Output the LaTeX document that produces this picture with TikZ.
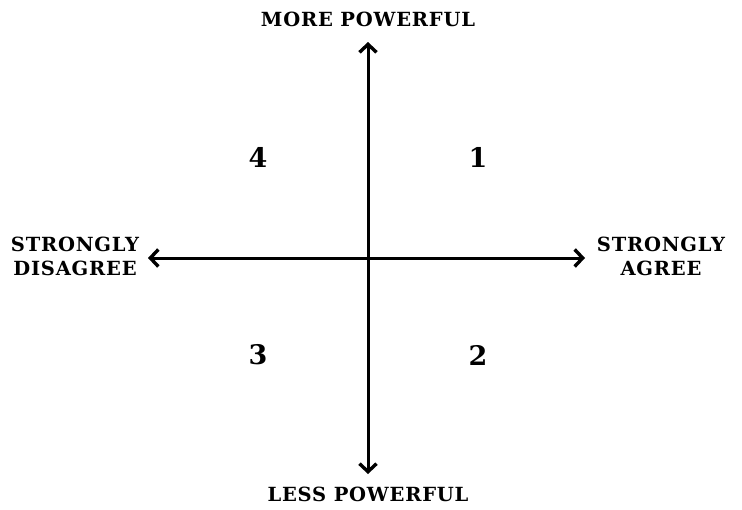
\documentclass[tikz,border=0pt]{standalone}
\usepackage{fontspec}
\setmainfont{DejaVu Serif}[LetterSpace=4]
\usetikzlibrary{arrows.meta}
\begin{document}
\begin{tikzpicture}[x=1pt,y=-1pt,
  axis/.style={line width=3pt,{Straight Barb[length=8pt,width=17pt,line width=3.4pt]}-{Straight Barb[length=8pt,width=17pt,line width=3.4pt]}},
  lab/.style={font=\bfseries\fontsize{19.5}{24}\selectfont,align=center,inner sep=0pt},
  num/.style={font=\bfseries\fontsize{27}{30}\selectfont,inner sep=0pt}]
\useasboundingbox (0,0) rectangle (742,509);
\coordinate (top) at (368,42);
\coordinate (bot) at (368,474);
\coordinate (lft) at (148,258);
\coordinate (rgt) at (585,258);
\draw[axis] (bot) -- (top);
\draw[axis] (lft) -- (rgt);
\node[lab] (more) at (368,19) {MORE POWERFUL};
\node[lab] (less) at (368,494) {LESS POWERFUL};
\node[lab] (dis) at (75,256) {STRONGLY\\DISAGREE};
\node[lab] (agr) at (661,256) {STRONGLY\\AGREE};
\node[num] (q4) at (258,157) {4};
\node[num] (q1) at (478,157) {1};
\node[num] (q3) at (258,355) {3};
\node[num] (q2) at (478,355) {2};
\end{tikzpicture}
\end{document}
